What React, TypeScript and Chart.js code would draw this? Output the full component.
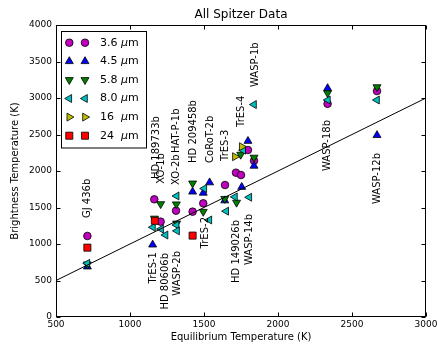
import React, { useEffect, useRef } from 'react';
import { Chart, registerables } from 'chart.js';
import { drawPoint } from 'chart.js/helpers';

Chart.register(...registerables);

// ---------- data ----------
const chartTitle = 'All Spitzer Data';
const xTitle = 'Equilibrium Temperature (K)';
const yTitle = 'Brightness Temperature (K)';
const xTicks = [500, 1000, 1500, 2000, 2500, 3000];
const yTicks = [0, 500, 1000, 1500, 2000, 2500, 3000, 3500, 4000];

const bands = ['3.6', '4.5', '5.8', '8.0', '16', '24'];

const teq36 = [712, 1164, 1207, 1311, 1423, 1495, 1642, 1716, 1750, 1797, 1838, 2335, 2669];
const tb36 = [1110, 1612, 1306, 1456, 1443, 1557, 1808, 1977, 1945, 2288, 2140, 2920, 3095];

const teq45 = [712, 1153, 1423, 1495, 1538, 1640, 1755, 1797, 1838, 2335, 2669];
const tb45 = [690, 990, 1716, 1700, 1842, 1595, 1780, 2410, 2070, 3133, 2490];

const teq58 = [712, 1165, 1207, 1313, 1315, 1423, 1495, 1640, 1720, 1748, 1838, 2335, 2669];
const tb58 = [722, 1350, 1548, 1545, 1283, 1831, 1443, 1620, 1568, 2225, 2185, 3068, 3150];

const teq80 = [712, 1155, 1210, 1240, 1315, 1315, 1318, 1502, 1536, 1650, 1709, 1806, 1765, 1838, 2337, 2669];
const tb80 = [735, 1229, 1205, 1123, 1658, 1260, 1180, 1760, 1329, 1450, 1645, 1640, 2285, 2910, 2973, 2973];

const teq16 = [1709, 1755];
const tb16 = [2196, 2333];

const teq24 = [712, 1168, 1423];
const tb24 = [950, 1318, 1115];

const oneToOneX = [500, 3000];
const oneToOneY = [500, 3000];

const planetNames = ['GJ 436b', 'TrES-1', 'HD 80606b', 'WASP-2b', 'HD 189733b', 'XO-1b', 'XO-2b', 'HAT-P-1b',
  'HD 209458b', 'CoRoT-2b', 'TrES-2', 'TrES-3', 'HD 149026b', 'TrES-4', 'WASP-14b', 'WASP-1b', 'WASP-18b', 'WASP-12b'];
const planetLabelTeq = [712, 1155, 1236, 1318, 1176, 1209, 1315, 1315, 1426, 1541, 1507, 1645, 1720, 1750, 1804, 1845, 2331, 2669];
const planetLabelTb = [1356, 890, 877, 904, 1890, 1825, 1808, 2247, 2110, 2110, 1370, 2137, 1329, 2603, 1411, 3151, 2699, 2247];
const planetLabelSide = ['up', 'down', 'down', 'down', 'up', 'up', 'up', 'up', 'up', 'up', 'down', 'up', 'down', 'up', 'down', 'up', 'down', 'down'];

// ---------- styles ----------
const bandX = [teq36, teq45, teq58, teq80, teq16, teq24];
const bandY = [tb36, tb45, tb58, tb80, tb16, tb24];
const bandColors = ['#bf00bf', '#0000ff', '#008000', '#00bfbf', '#bfbf00', '#ff0000'];
const bandShapes = ['circle', 'triangle', 'triangle', 'triangle', 'triangle', 'rect'];
const bandRot = [0, 0, 180, 270, 90, 0];
const bandRadius = [3.8, 4.6, 4.6, 4.6, 4.6, 5.0];
const FONT = '"DejaVu Sans", "Bitstream Vera Sans", sans-serif';

const decor = {
  id: 'decor',
  afterDatasetsDraw(chart: any) {
    const { ctx, chartArea: a, scales } = chart;
    const x = scales.x;
    const y = scales.y;
    ctx.save();
    // planet labels
    ctx.fillStyle = '#000';
    ctx.font = `10px ${FONT}`;
    ctx.textBaseline = 'middle';
    planetNames.forEach((name, i) => {
      const px = x.getPixelForValue(planetLabelTeq[i]);
      const py = y.getPixelForValue(planetLabelTb[i]);
      ctx.save();
      ctx.translate(px, py);
      ctx.rotate(-Math.PI / 2);
      ctx.textAlign = planetLabelSide[i] === 'up' ? 'left' : 'right';
      ctx.fillText(name, 0, 0);
      ctx.restore();
    });

    // frame
    const L = Math.round(a.left) + 0.5;
    const R = Math.round(a.right) - 0.5;
    const T = Math.round(a.top) + 0.5;
    const B = Math.round(a.bottom) - 0.5;
    ctx.strokeStyle = '#000';
    ctx.lineWidth = 1;
    ctx.strokeRect(L, T, R - L, B - T);
    // inward ticks
    const tl = 4;
    ctx.beginPath();
    xTicks.forEach((v) => {
      const px = Math.round(x.getPixelForValue(v)) + 0.5;
      ctx.moveTo(px, B); ctx.lineTo(px, B - tl);
      ctx.moveTo(px, T); ctx.lineTo(px, T + tl);
    });
    yTicks.forEach((v) => {
      const py = Math.round(y.getPixelForValue(v)) + 0.5;
      ctx.moveTo(L, py); ctx.lineTo(L + tl, py);
      ctx.moveTo(R, py); ctx.lineTo(R - tl, py);
    });
    ctx.stroke();

    // legend
    const lx = 61.5, ly = 31.5, lw = 85, lh = 116.5;
    ctx.fillStyle = '#fff';
    ctx.fillRect(lx, ly, lw, lh);
    ctx.strokeStyle = '#000';
    ctx.strokeRect(lx, ly, lw, lh);
    bands.forEach((b, i) => {
      const ry = 42.7 + i * 18.6;
      const opts = { pointStyle: bandShapes[i], rotation: bandRot[i], radius: bandRadius[i], borderWidth: 0.8 };
      [69.3, 85].forEach((mx) => {
        ctx.fillStyle = bandColors[i];
        ctx.strokeStyle = '#000';
        ctx.lineWidth = 0.8;
        drawPoint(ctx, opts as any, mx, ry);
      });
      ctx.fillStyle = '#000';
      ctx.textAlign = 'left';
      ctx.textBaseline = 'middle';
      ctx.font = `11px ${FONT}`;
      ctx.fillText(b, 100, ry);
      ctx.font = `italic 11px ${FONT}`;
      ctx.fillText('\u03bc', 121, ry);
      const mw = ctx.measureText('\u03bc').width;
      ctx.font = `11px ${FONT}`;
      ctx.fillText('m', 121 + mw, ry);
    });

    // titles
    ctx.fillStyle = '#000';
    ctx.textAlign = 'center';
    ctx.textBaseline = 'middle';
    const cx = (a.left + a.right) / 2;
    ctx.font = `12px ${FONT}`;
    ctx.fillText(chartTitle, cx, 14.5);
    ctx.font = `10px ${FONT}`;
    ctx.fillText(xTitle, cx, 337);
    ctx.save();
    ctx.translate(15, (a.top + a.bottom) / 2);
    ctx.rotate(-Math.PI / 2);
    ctx.fillText(yTitle, 0, 0);
    ctx.restore();
    ctx.restore();
  },
};

export default function App() {
  const ref = useRef<HTMLCanvasElement>(null);
  useEffect(() => {
    const canvas = ref.current;
    if (!canvas) return;
    Chart.defaults.font.family = FONT;
    Chart.defaults.color = '#000';
    const datasets: any[] = bands.map((b, i) => ({
      type: 'scatter',
      label: `${b} \u03bcm`,
      data: bandX[i].map((v, k) => ({ x: v, y: bandY[i][k] })),
      backgroundColor: bandColors[i],
      borderColor: '#000',
      borderWidth: 0.8,
      pointStyle: bandShapes[i],
      pointRotation: bandRot[i],
      pointRadius: bandRadius[i],
      pointHoverRadius: bandRadius[i],
      pointBackgroundColor: bandColors[i],
      pointBorderColor: '#000',
      pointBorderWidth: 0.8,
      order: 6 - i,
    }));
    datasets.push({
      type: 'line',
      label: 'one-to-one',
      data: oneToOneX.map((v, k) => ({ x: v, y: oneToOneY[k] })),
      borderColor: '#000',
      borderWidth: 1,
      pointRadius: 0,
      fill: false,
      showLine: true,
      order: 0,
    });
    const chart = new Chart(canvas, {
      type: 'scatter',
      data: { datasets },
      options: {
        responsive: false,
        animation: false,
        events: [],
        layout: { padding: { top: 25, right: 11, bottom: 0, left: 0 } },
        plugins: { legend: { display: false }, tooltip: { enabled: false }, title: { display: false } },
        scales: {
          x: {
            type: 'linear',
            min: 500,
            max: 3000,
            afterBuildTicks: (s: any) => { s.ticks = xTicks.map((v) => ({ value: v })); },
            ticks: { callback: (v: any) => String(v), autoSkip: false, maxRotation: 0, padding: 2, font: { size: 9 }, color: '#000' },
            grid: { display: false, drawTicks: false },
            border: { display: false },
            afterFit: (s: any) => { s.height = 28; s.paddingLeft = 0; s.paddingRight = 0; },
          },
          y: {
            type: 'linear',
            min: 0,
            max: 4000,
            afterBuildTicks: (s: any) => { s.ticks = yTicks.map((v) => ({ value: v })); },
            ticks: { callback: (v: any) => String(v), autoSkip: false, padding: 4, font: { size: 9 }, color: '#000' },
            grid: { display: false, drawTicks: false },
            border: { display: false },
            afterFit: (s: any) => { s.width = 56; s.paddingTop = 0; s.paddingBottom = 0; },
          },
        },
      } as any,
      plugins: [decor],
    });
    return () => chart.destroy();
  }, []);
  return (
    <div style={{ position: 'fixed', left: 0, top: 0, width: 437, height: 345, background: '#fff' }}>
      <canvas ref={ref} width={437} height={345} style={{ width: 437, height: 345, display: 'block' }} />
    </div>
  );
}
